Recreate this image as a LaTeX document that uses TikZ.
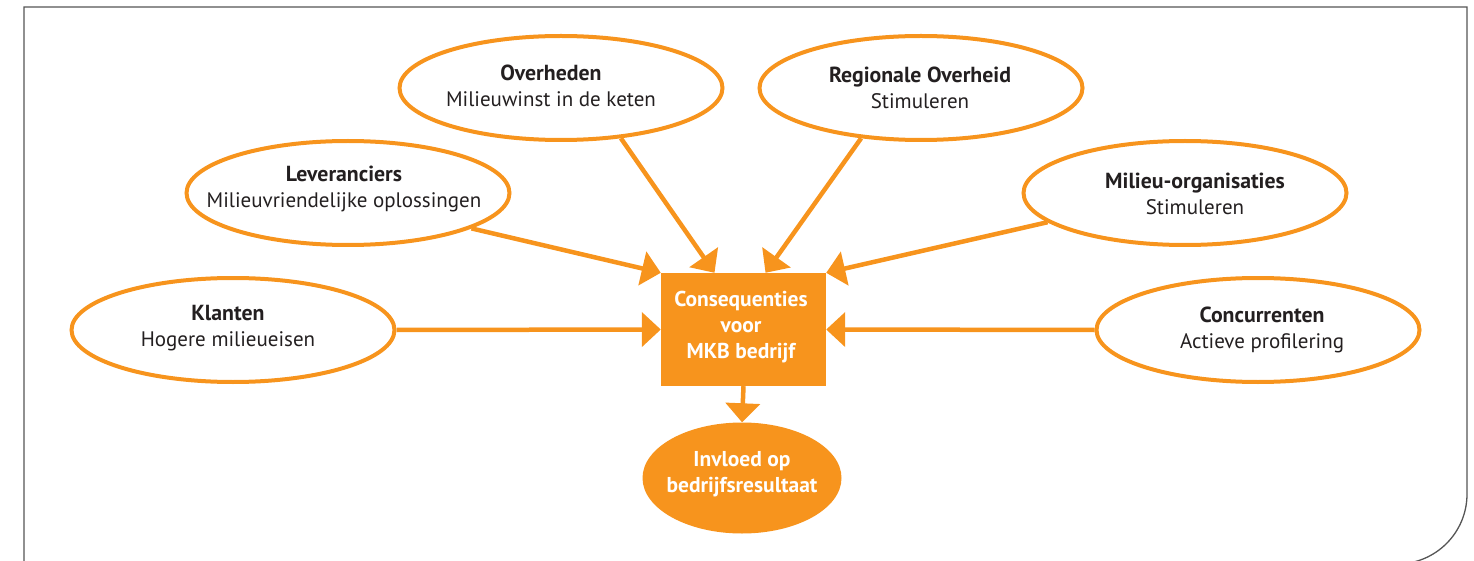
\documentclass[tikz,border=0pt]{standalone}
\usepackage{fontspec}
\setmainfont{PT Sans}
\usetikzlibrary{arrows.meta,shapes.geometric}
\definecolor{orng}{HTML}{F7941D}
\definecolor{txtc}{HTML}{231F20}
\definecolor{framec}{HTML}{555555}
\newcommand{\ttl}[1]{{\fontsize{21.8}{26}\selectfont\bfseries #1}}
\begin{document}
\begin{tikzpicture}[x=1pt,y=-1pt,
  ell/.style={ellipse,draw=orng,line width=4pt,minimum width=323pt,minimum height=104pt,inner sep=0pt},
  lbl/.style={align=center,text=txtc,font=\fontsize{21}{26}\selectfont,inner sep=0pt},
  wlbl/.style={align=center,text=white,font=\fontsize{21.5}{26}\selectfont\bfseries,inner sep=0pt},
  conn/.style={draw=orng,line width=4.5pt,-{Triangle[length=19pt,width=34pt]}},
]
\useasboundingbox (0,0) rectangle (1474,561);
\clip (0,0) rectangle (1474,561);
% frame
\draw[framec,line width=1.3pt] (24,620) -- (24,7) -- (1467,7) -- (1467,494) arc[start angle=0,end angle=-90,radius=70pt] -- (1250,564);
% outer ellipses
\node[ell] (ovh) at (561,88) {};
\node[lbl] at (551,88.5) {\strut\ttl{Overheden}\\\strut Milieuwinst in de keten};
\node[ell] (reg) at (921,88) {};
\node[lbl] at (920,90) {\strut\ttl{Regionale Overheid}\\\strut Stimuleren};
\node[ell] (lev) at (348,193) {};
\node[lbl] at (344,189) {\strut\ttl{Leveranciers}\\\strut Milieuvriendelijke oplossingen};
\node[ell] (mil) at (1185,193) {};
\node[lbl] at (1195,196) {\strut\ttl{Milieu-organisaties}\\\strut Stimuleren};
\node[ell] (kla) at (233,330) {};
\node[lbl] at (228,328) {\strut\ttl{Klanten}\\\strut Hogere milieueisen};
\node[ell] (con) at (1258,330) {};
\node[lbl] at (1262,330) {\strut\ttl{Concurrenten}\\\strut Actieve profilering};
% centre box
\node[fill=orng,minimum width=165pt,minimum height=113pt,inner sep=0pt] (box) at (743.5,329.5) {};
\node[wlbl] at (741,327) {\strut Consequenties\\\strut voor\\\strut MKB bedrijf};
% result ellipse
\node[ellipse,fill=orng,minimum width=199pt,minimum height=111pt,inner sep=0pt] (inv) at (742,478) {};
\node[wlbl] at (742,474) {\strut Invloed op\\\strut bedrijfsresultaat};
% connectors
\draw[conn] (kla.east) -- (box.west);
\draw[conn] (con.west) -- (box.east);
\draw[conn] (lev.-16) -- (box.north west);
\draw[conn] (mil.-168) -- (box.north east);
\draw[conn] (ovh.-40) -- ([xshift=-29pt]box.north);
\draw[conn] (reg.-140) -- ([xshift=22pt]box.north);
\draw[conn] (box.south) -- (inv.north);
\end{tikzpicture}
\end{document}
